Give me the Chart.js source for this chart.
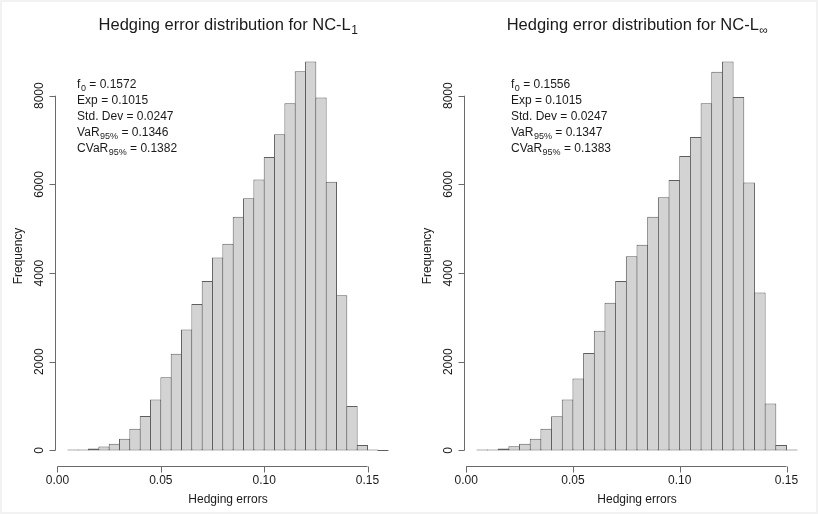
<!DOCTYPE html>
<html>
<head>
<meta charset="utf-8">
<script src="https://cdn.jsdelivr.net/npm/chart.js@4.4.1/dist/chart.umd.min.js"></script>
<style>
    html, body { margin: 0; padding: 0; background: #fff; }
    #wrap { position: relative; width: 818px; height: 514px; }
    #frame { position: absolute; left: 0; top: 0; width: 818px; height: 514px; box-sizing: border-box; border: 2px solid #f2f2f2; }
    canvas { position: absolute; top: 0; }
    #histL1 { left: 0; }
    #histLinf { left: 409px; }
</style>
</head>
<body>
<div id="wrap">
    <div id="frame"></div>
    <canvas id="histL1" width="409" height="514"></canvas>
    <canvas id="histLinf" width="409" height="514"></canvas>
</div>
<script>
const BIN_WIDTH = 0.005;

// lower edges of the histogram bins
const binStartsL1 = [
    0.005, 0.010, 0.015, 0.020, 0.025, 0.030, 0.035, 0.040, 0.045, 0.050,
    0.055, 0.060, 0.065, 0.070, 0.075, 0.080, 0.085, 0.090, 0.095, 0.100,
    0.105, 0.110, 0.115, 0.120, 0.125, 0.130, 0.135, 0.140, 0.145, 0.150,
    0.155
];
const countsL1 = [
    5, 15, 45, 90, 150, 265, 490, 775, 1150, 1650,
    2180, 2730, 3300, 3820, 4350, 4660, 5270, 5690, 6110, 6620,
    7130, 7830, 8550, 8770, 7960, 6060, 3500, 1000, 125, 15,
    0
];

const binStartsLinf = [
    0.005, 0.010, 0.015, 0.020, 0.025, 0.030, 0.035, 0.040, 0.045, 0.050,
    0.055, 0.060, 0.065, 0.070, 0.075, 0.080, 0.085, 0.090, 0.095, 0.100,
    0.105, 0.110, 0.115, 0.120, 0.125, 0.130, 0.135, 0.140, 0.145, 0.150
];
const countsLinf = [
    5, 15, 45, 95, 150, 265, 490, 770, 1150, 1620,
    2200, 2700, 3330, 3820, 4380, 4640, 5270, 5710, 6100, 6640,
    7070, 7830, 8540, 8770, 7970, 6040, 3560, 1060, 125, 10
];

const xTickValues = [0, 0.05, 0.10, 0.15];
const xTickLabels = ['0.00', '0.05', '0.10', '0.15'];
const yTickValues = [0, 2000, 4000, 6000, 8000];
const yTickLabels = ['0', '2000', '4000', '6000', '8000'];

const statNames = [['f', '0'], ['Exp', ''], ['Std. Dev', ''], ['VaR', '95%'], ['CVaR', '95%']];
const statValuesL1 = ['0.1572', '0.1015', '0.0247', '0.1346', '0.1382'];
const statValuesLinf = ['0.1556', '0.1015', '0.0247', '0.1347', '0.1383'];

const FONT = '"Liberation Sans", Arial, Helvetica, sans-serif';
const INK = '#1a1a1a';

// draws R-style axes, labels, title and the stats block
const rAxesPlugin = {
    id: 'rAxes',
    afterDraw(chart) {
        const cfg = chart.options.plugins.rAxes;
        const ctx = chart.ctx;
        const xs = chart.scales.x;
        const ys = chart.scales.y;
        const area = chart.chartArea;
        ctx.save();
        ctx.strokeStyle = '#6a6a6a';
        ctx.lineWidth = 1;
        ctx.fillStyle = INK;

        // x axis
        const axY = Math.round(area.bottom) + 0.5;
        const xa = xs.getPixelForValue(xTickValues[0]);
        const xb = xs.getPixelForValue(xTickValues[xTickValues.length - 1]);
        ctx.beginPath();
        ctx.moveTo(xa, axY);
        ctx.lineTo(xb, axY);
        xTickValues.forEach(v => {
            const px = Math.round(xs.getPixelForValue(v)) + 0.5;
            ctx.moveTo(px, axY);
            ctx.lineTo(px, axY + 6);
        });
        ctx.stroke();
        ctx.font = '12px ' + FONT;
        ctx.textAlign = 'center';
        ctx.textBaseline = 'middle';
        xTickValues.forEach((v, i) => {
            ctx.fillText(xTickLabels[i], xs.getPixelForValue(v), axY + 14);
        });
        ctx.fillText('Hedging errors', (area.left + area.right) / 2, axY + 33);

        // y axis
        const axX = Math.round(area.left) + 0.5;
        const ya = ys.getPixelForValue(yTickValues[0]);
        const yb = ys.getPixelForValue(yTickValues[yTickValues.length - 1]);
        ctx.beginPath();
        ctx.moveTo(axX, ya);
        ctx.lineTo(axX, yb);
        yTickValues.forEach(v => {
            const py = Math.round(ys.getPixelForValue(v)) + 0.5;
            ctx.moveTo(axX, py);
            ctx.lineTo(axX - 6, py);
        });
        ctx.stroke();
        yTickValues.forEach((v, i) => {
            ctx.save();
            ctx.translate(axX - 16, ys.getPixelForValue(v));
            ctx.rotate(-Math.PI / 2);
            ctx.fillText(yTickLabels[i], 0, 0);
            ctx.restore();
        });
        ctx.save();
        ctx.translate(axX - 37, (area.top + area.bottom) / 2);
        ctx.rotate(-Math.PI / 2);
        ctx.fillText('Frequency', 0, 0);
        ctx.restore();

        // title with subscript
        ctx.textAlign = 'left';
        ctx.textBaseline = 'alphabetic';
        const mainFont = '16.5px ' + FONT;
        const subFont = '12px ' + FONT;
        ctx.font = mainFont;
        const wMain = ctx.measureText(cfg.title).width;
        ctx.font = subFont;
        const wSub = ctx.measureText(cfg.titleSub).width;
        const tx = (area.left + area.right) / 2 - (wMain + wSub) / 2;
        ctx.font = mainFont;
        ctx.fillText(cfg.title, tx, 30);
        ctx.font = subFont;
        ctx.fillText(cfg.titleSub, tx + wMain + 0.5, 33.5);

        // stats block
        ctx.textBaseline = 'middle';
        const sx = xs.getPixelForValue(cfg.statX);
        cfg.statValues.forEach((val, i) => {
            const y = cfg.statTop + i * 16;
            const [name, sub] = statNames[i];
            let x = sx;
            ctx.font = '12px ' + FONT;
            ctx.fillText(name, x, y);
            x += ctx.measureText(name).width;
            if (sub) {
                ctx.font = '9px ' + FONT;
                ctx.fillText(sub, x + 0.5, y + 3.5);
                x += ctx.measureText(sub).width + 0.5;
            }
            ctx.font = '12px ' + FONT;
            ctx.fillText(' = ' + val, x, y);
        });
        ctx.restore();
    }
};

function buildHistPanel(canvasId, binStarts, counts, panel) {
    const first = binStarts[0];
    const last = binStarts[binStarts.length - 1] + BIN_WIDTH;
    const pad = (last - first) * 0.04;
    const yMax = Math.max(...counts);
    const points = binStarts.map((b, i) => ({ x: b + BIN_WIDTH / 2, y: counts[i] }));

    return new Chart(document.getElementById(canvasId), {
        type: 'bar',
        data: {
            datasets: [{
                data: points,
                backgroundColor: '#d3d3d3',
                borderColor: '#5e5e5e',
                borderWidth: 1,
                borderSkipped: false,
                barPercentage: 1.09,
                categoryPercentage: 1,
                minBarLength: 1
            }]
        },
        options: {
            responsive: false,
            animation: false,
            layout: { padding: { left: 55, right: 8, top: 46, bottom: 48 } },
            plugins: {
                legend: { display: false },
                tooltip: { enabled: false },
                title: { display: false },
                rAxes: panel
            },
            scales: {
                x: {
                    type: 'linear',
                    display: false,
                    offset: false,
                    min: first - pad,
                    max: last + pad,
                    afterBuildTicks(scale) {
                        scale.ticks = xTickValues.map(v => ({ value: v }));
                    }
                },
                y: {
                    display: false,
                    min: -0.04 * yMax,
                    max: 1.04 * yMax,
                    afterBuildTicks(scale) {
                        scale.ticks = yTickValues.map(v => ({ value: v }));
                    }
                }
            }
        },
        plugins: [rAxesPlugin]
    });
}

buildHistPanel('histL1', binStartsL1, countsL1, {
    title: 'Hedging error distribution for NC-L',
    titleSub: '1',
    statValues: statValuesL1,
    statX: 0.0095,
    statTop: 85
});

buildHistPanel('histLinf', binStartsLinf, countsLinf, {
    title: 'Hedging error distribution for NC-L',
    titleSub: '\u221e',
    statValues: statValuesLinf,
    statX: 0.021,
    statTop: 85
});
</script>
</body>
</html>
